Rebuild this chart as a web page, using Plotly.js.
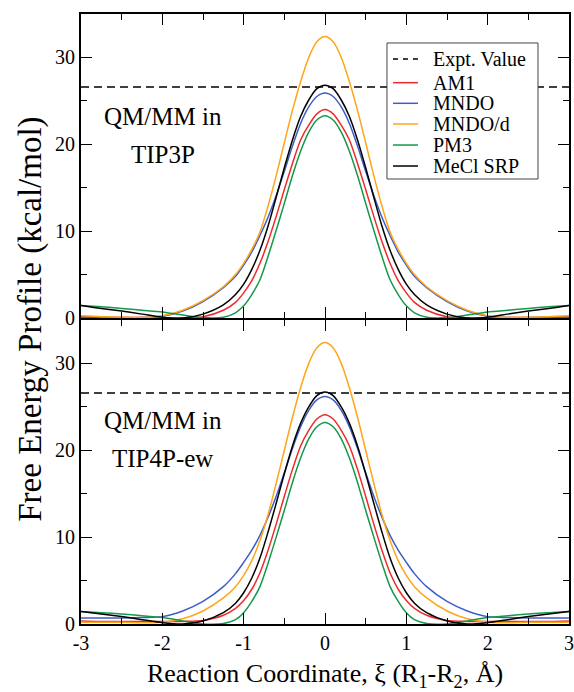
<!DOCTYPE html>
<html>
<head>
<meta charset="utf-8">
<script src="https://cdn.plot.ly/plotly-3.0.1.min.js"></script>
<style>html,body{margin:0;padding:0;background:#fff;}#chart{width:574px;height:692px;}</style>
</head>
<body>
<div id="chart"></div>
<script>
const xi = [-3,-2.75,-2.5,-2.25,-2,-1.75,-1.5,-1.25,-1.1,-1,-0.9,-0.8,-0.7,-0.6,-0.5,-0.4,-0.3,-0.2,-0.1,0,0.1,0.2,0.3,0.4,0.5,0.6,0.7,0.8,0.9,1,1.1,1.25,1.5,1.75,2,2.25,2.5,2.75,3];

const exptX = [-3, 3];
const exptValue = [26.6, 26.6];

const xTickVals = [-3, -2, -1, 0, 1, 2, 3];
const xTickText = ['-3', '-2', '-1', '0', '1', '2', '3'];

const seriesNames = ['AM1', 'MNDO', 'MNDO/d', 'PM3', 'MeCl SRP'];

// QM/MM in TIP3P (top panel)
const tip3p_AM1 = [0.15,0.1,0.05,0.05,0.0,0.0,0.15,0.9,1.8,2.9,4.3,6.3,8.8,11.7,14.8,17.8,20.5,22.2,23.5,24.0,23.5,22.2,20.5,17.8,14.8,11.7,8.8,6.3,4.3,2.9,1.8,0.9,0.15,0.0,0.0,0.05,0.05,0.1,0.15];
const tip3p_MNDO = [0.1,0.1,0.05,0.05,0.2,0.8,1.9,3.5,4.8,6.1,7.6,9.5,11.6,14.1,16.9,19.8,22.4,24.3,25.5,25.9,25.5,24.3,22.4,19.8,16.9,14.1,11.6,9.5,7.6,6.1,4.8,3.5,1.9,0.8,0.2,0.05,0.05,0.1,0.1];
const tip3p_MNDOd = [0.25,0.15,0.1,0.05,0.25,0.9,2.0,3.6,5.0,6.3,7.9,9.9,12.9,16.4,20.2,23.9,27.2,30.0,31.8,32.4,31.8,30.0,27.2,23.9,20.2,16.4,12.9,9.9,7.9,6.3,5.0,3.6,2.0,0.9,0.25,0.05,0.1,0.15,0.25];
const tip3p_PM3 = [1.45,1.3,1.1,0.9,0.7,0.35,0.05,0.1,0.6,1.4,2.7,4.4,7.1,10.1,13.2,16.4,19.2,21.4,22.8,23.3,22.8,21.4,19.2,16.4,13.2,10.1,7.1,4.4,2.7,1.4,0.6,0.1,0.05,0.35,0.7,0.9,1.1,1.3,1.45];
const tip3p_MeCl = [1.45,1.1,0.8,0.45,0.1,0.0,0.45,1.5,2.7,3.9,5.6,7.8,10.6,13.9,17.3,20.5,23.2,25.1,26.4,26.8,26.4,25.1,23.2,20.5,17.3,13.9,10.6,7.8,5.6,3.9,2.7,1.5,0.45,0.0,0.1,0.45,0.8,1.1,1.45];

// QM/MM in TIP4P-ew (bottom panel)
const tip4p_AM1 = [0.35,0.3,0.3,0.3,0.3,0.3,0.4,1.0,1.8,2.7,4.0,5.9,8.5,11.5,14.7,17.8,20.5,22.3,23.6,24.1,23.6,22.3,20.5,17.8,14.7,11.5,8.5,5.9,4.0,2.7,1.8,1.0,0.4,0.3,0.3,0.3,0.3,0.3,0.35];
const tip4p_MNDO = [0.7,0.7,0.7,0.75,0.85,1.5,2.6,4.3,5.8,7.1,8.5,10.2,12.3,14.7,17.4,20.2,22.7,24.6,25.8,26.2,25.8,24.6,22.7,20.2,17.4,14.7,12.3,10.2,8.5,7.1,5.8,4.3,2.6,1.5,0.85,0.75,0.7,0.7,0.7];
const tip4p_MNDOd = [0.2,0.2,0.2,0.15,0.2,0.6,1.5,3.0,4.3,5.6,7.3,9.6,12.6,16.2,20.0,23.8,27.2,30.0,31.8,32.4,31.8,30.0,27.2,23.8,20.0,16.2,12.6,9.6,7.3,5.6,4.3,3.0,1.5,0.6,0.2,0.15,0.2,0.2,0.2];
const tip4p_PM3 = [1.45,1.3,1.15,0.95,0.75,0.35,0.0,0.05,0.5,1.3,2.6,4.3,7.0,10.0,13.1,16.3,19.1,21.3,22.7,23.2,22.7,21.3,19.1,16.3,13.1,10.0,7.0,4.3,2.6,1.3,0.5,0.05,0.0,0.35,0.75,0.95,1.15,1.3,1.45];
const tip4p_MeCl = [1.45,1.15,0.85,0.5,0.15,0.0,0.35,1.3,2.4,3.6,5.3,7.6,10.6,13.9,17.3,20.5,23.1,25.0,26.3,26.7,26.3,25.0,23.1,20.5,17.3,13.9,10.6,7.6,5.3,3.6,2.4,1.3,0.35,0.0,0.15,0.5,0.85,1.15,1.45];

const colors = ['#ee2a2a', '#3d5dc8', '#ffa519', '#13994a', '#000000'];
const topSeries = [tip3p_AM1, tip3p_MNDO, tip3p_MNDOd, tip3p_PM3, tip3p_MeCl];
const botSeries = [tip4p_AM1, tip4p_MNDO, tip4p_MNDOd, tip4p_PM3, tip4p_MeCl];

const FONT = '"Liberation Serif", "Times New Roman", serif';
const DASH = '8px,5px';
const traces = [];
traces.push({x: exptX, y: exptValue, xaxis: 'x2', yaxis: 'y2', mode: 'lines', name: 'Expt. Value',
  line: {color: '#000', width: 1.5, dash: DASH}, showlegend: false});
traces.push({x: exptX, y: exptValue, xaxis: 'x', yaxis: 'y', mode: 'lines', name: 'Expt. Value',
  line: {color: '#000', width: 1.5, dash: DASH}, showlegend: false});
seriesNames.forEach((n, i) => {
  traces.push({x: xi, y: topSeries[i], xaxis: 'x2', yaxis: 'y2', mode: 'lines', name: n,
    line: {color: colors[i], width: 1.5, shape: 'spline', smoothing: 0.8}, showlegend: false});
});
seriesNames.forEach((n, i) => {
  traces.push({x: xi, y: botSeries[i], xaxis: 'x', yaxis: 'y', mode: 'lines', name: n,
    line: {color: colors[i], width: 1.5, shape: 'spline', smoothing: 0.8}, showlegend: false});
});

const axCommon = {
  showgrid: false, zeroline: false, showline: true, linecolor: '#000', linewidth: 2,
  mirror: 'ticks', ticks: 'inside', ticklen: 11, tickwidth: 1, tickcolor: '#000',
  tickfont: {family: FONT, size: 20, color: '#000'}
};
const xRange = [-3.0001, 3.0001];

// legend box drawn in paper coordinates
const legNames = ['Expt. Value'].concat(seriesNames);
const legColors = ['#000'].concat(colors);
const legRowY = [0.9262, 0.8874, 0.8536, 0.8197, 0.7852, 0.7508];
const shapes = [{type: 'rect', xref: 'paper', yref: 'paper', x0: 0.627, x1: 0.9365, y0: 0.7295, y1: 0.9525,
  fillcolor: '#fff', line: {color: '#444', width: 1}, layer: 'above'}];
const annotations = [];
legNames.forEach((n, i) => {
  shapes.push({type: 'line', xref: 'paper', yref: 'paper', x0: 0.6393, x1: 0.6906, y0: legRowY[i], y1: legRowY[i],
    line: {color: legColors[i], width: 1.5, dash: i === 0 ? '5px,5px' : 'solid'}, layer: 'above'});
  annotations.push({xref: 'paper', yref: 'paper', x: 0.7166, y: legRowY[i], xanchor: 'left', yanchor: 'middle',
    text: n, showarrow: false, font: {family: FONT, size: 20, color: '#000'}});
});
annotations.push(
  {xref: 'paper', yref: 'paper', x: -0.105, y: 0.5, text: 'Free Energy Profile (kcal/mol)', textangle: -90,
    showarrow: false, font: {family: FONT, size: 33, color: '#000'}, xanchor: 'center', yanchor: 'middle'},
  {xref: 'paper', yref: 'paper', x: 0.168, y: 0.832, text: 'QM/MM in', showarrow: false, xanchor: 'center', yanchor: 'middle',
    font: {family: FONT, size: 25, color: '#000'}},
  {xref: 'paper', yref: 'paper', x: 0.168, y: 0.770, text: 'TIP3P', showarrow: false, xanchor: 'center', yanchor: 'middle',
    font: {family: FONT, size: 25, color: '#000'}},
  {xref: 'paper', yref: 'paper', x: 0.168, y: 0.334, text: 'QM/MM in', showarrow: false, xanchor: 'center', yanchor: 'middle',
    font: {family: FONT, size: 25, color: '#000'}},
  {xref: 'paper', yref: 'paper', x: 0.168, y: 0.272, text: 'TIP4P-ew', showarrow: false, xanchor: 'center', yanchor: 'middle',
    font: {family: FONT, size: 25, color: '#000'}}
);

const layout = {
  width: 574, height: 692,
  margin: {l: 81, r: 5, t: 14, b: 68},
  paper_bgcolor: '#fff', plot_bgcolor: '#fff',
  font: {family: FONT, color: '#000'},
  showlegend: false,
  xaxis: Object.assign({}, axCommon, {anchor: 'y', domain: [0, 1], range: xRange,
    tickmode: 'array', tickvals: xTickVals, ticktext: xTickText,
    minor: {tickmode: 'linear', tick0: 0, dtick: 0.5, ticks: 'inside', ticklen: 6, tickcolor: '#000'},
    title: {text: 'Reaction Coordinate, ξ (R<sub>1</sub>-R<sub>2</sub>, Å)', font: {family: FONT, size: 26, color: '#000'}, standoff: 11}}),
  yaxis: Object.assign({}, axCommon, {anchor: 'x', domain: [0, 0.4984], range: [0, 35], dtick: 10, tick0: 0,
    minor: {dtick: 5, ticks: 'inside', ticklen: 6, tickcolor: '#000'}}),
  xaxis2: Object.assign({}, axCommon, {anchor: 'y2', domain: [0, 1], range: xRange,
    tickmode: 'array', tickvals: xTickVals, ticktext: xTickText, showticklabels: false,
    minor: {tickmode: 'linear', tick0: 0, dtick: 0.5, ticks: 'inside', ticklen: 6, tickcolor: '#000'}}),
  yaxis2: Object.assign({}, axCommon, {anchor: 'x2', domain: [0.5016, 1], range: [0, 35], dtick: 10, tick0: 0,
    minor: {dtick: 5, ticks: 'inside', ticklen: 6, tickcolor: '#000'}}),
  shapes: shapes,
  annotations: annotations
};

Plotly.newPlot('chart', traces, layout, {displayModeBar: false, staticPlot: true});
</script>
</body>
</html>
